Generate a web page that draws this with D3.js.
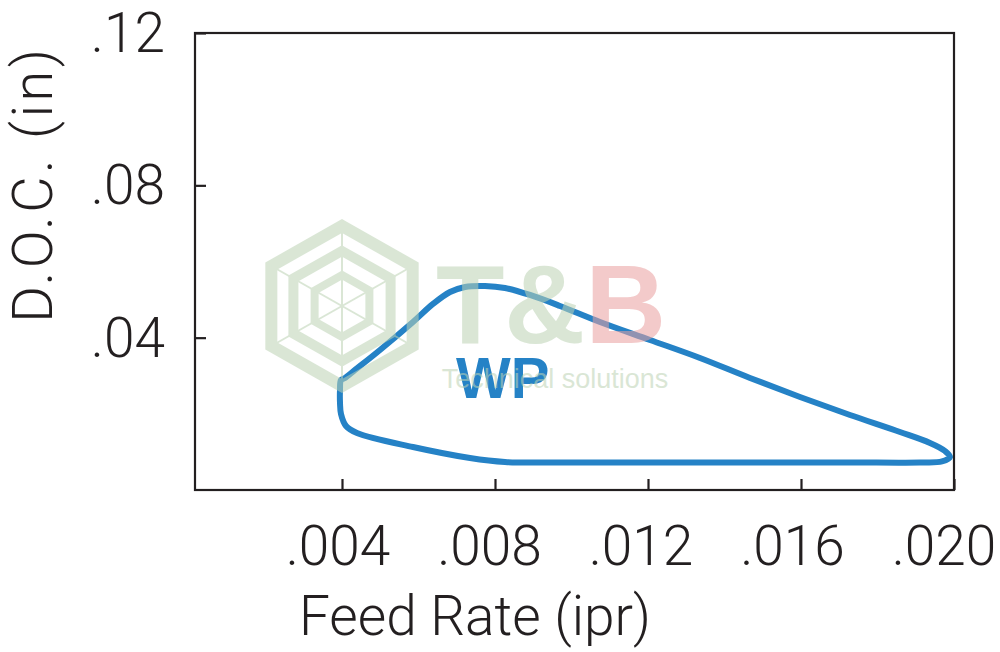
<!DOCTYPE html>
<html>
<head>
<meta charset="utf-8">
<script src="https://cdn.jsdelivr.net/npm/d3@7"></script>
<style>
  html, body { margin: 0; padding: 0; background: #ffffff; }
  svg { display: block; }
  .lbl { font-family: Roboto, "Open Sans", "Liberation Sans", sans-serif; font-weight: 300; fill: #231f20; }
</style>
</head>
<body>
<svg id="chart" width="1000" height="652"></svg>
<script>
// ---- data (Feed Rate in ipr, D.O.C. in inches) ----
const feedRate = [
  0.003974, 0.003948, 0.003948, 0.003974, 0.004105, 0.004392, 0.005856, 0.007346,
  0.008261, 0.009438, 0.012052, 0.014667, 0.017281, 0.019111, 0.019686, 0.019895,
  0.019765, 0.019373, 0.018588, 0.017281, 0.015974, 0.014667, 0.013359, 0.012052,
  0.010745, 0.009699, 0.008915, 0.008261, 0.007739, 0.007216, 0.006824, 0.006379,
  0.005856, 0.004993, 0.004340, 0.004078
];
const depthOfCut = [
  0.02889, 0.02626, 0.02285, 0.01996, 0.01681, 0.01497, 0.01129, 0.00840,
  0.00735, 0.00722, 0.00722, 0.00722, 0.00722, 0.00722, 0.00749, 0.00867,
  0.01024, 0.01234, 0.01523, 0.01970, 0.02443, 0.02942, 0.03467, 0.03940,
  0.04412, 0.04833, 0.05121, 0.05305, 0.05358, 0.05332, 0.05200, 0.04885,
  0.04412, 0.03677, 0.03152, 0.02942
];
const xTicks = [0.004, 0.008, 0.012, 0.016, 0.020];
const xTickLabels = [".004", ".008", ".012", ".016", ".020"];
const yTicks = [0.04, 0.08, 0.12];
const yTickLabels = [".04", ".08", ".12"];
const regionLabel = "WP";
const xTitle = "Feed Rate (ipr)";
const yTitle = "D.O.C. (in)";

(function () {
// ---- layout ----
const svg = d3.select("#chart");
const pl = 195, pr = 954, pt = 33, pb = 490;
const ink = "#231f20";

const x = d3.scaleLinear().domain([0.000157, 0.020]).range([pl, pr]);
const y = d3.scaleLinear().domain([0, 0.12]).range([pb, pt]);

// ---- curve ----
const pts = feedRate.map((f, i) => [f, depthOfCut[i]]);
const line = d3.line().x(d => x(d[0])).y(d => y(d[1])).curve(d3.curveCatmullRomClosed.alpha(0.5));
svg.append("path")
  .attr("d", line(pts))
  .attr("fill", "none")
  .attr("stroke", "#2582c6")
  .attr("stroke-width", 6)
  .attr("stroke-linejoin", "round");

// ---- region label ----
svg.append("text")
  .attr("x", x(0.0082)).attr("y", y(0.0242))
  .attr("text-anchor", "middle")
  .style("font-family", "'Liberation Sans', Arial, sans-serif")
  .style("font-weight", "bold")
  .style("font-size", "58px")
  .style("fill", "#2582c6")
  .text(regionLabel);

// ---- watermark ----
const wm = svg.append("g").attr("opacity", 0.55);
const hx = 342, hy = 306;
[[80, 12], [55, 10], [31, 8]].forEach(([r, w]) => {
  const hex = d3.range(6).map(k => {
    const a = -Math.PI / 2 + k * Math.PI / 3;
    return [hx + r * 1.02 * Math.cos(a), hy + r * Math.sin(a)];
  });
  wm.append("polygon").attr("points", hex.map(p => p.join(",")).join(" "))
    .attr("fill", "none").attr("stroke", "#bcd3b4").attr("stroke-width", w);
});
d3.range(6).forEach(k => {
  const a = -Math.PI / 2 + k * Math.PI / 3;
  wm.append("line").attr("x1", hx).attr("y1", hy)
    .attr("x2", hx + 80 * 1.02 * Math.cos(a)).attr("y2", hy + 80 * Math.sin(a))
    .attr("stroke", "#bcd3b4").attr("stroke-width", 2);
});
const tb = wm.append("text").attr("x", 551).attr("y", 343).attr("text-anchor", "middle")
  .style("font-family", "'Liberation Sans', Arial, sans-serif").style("font-weight", "bold")
  .style("font-size", "112px");
tb.append("tspan").attr("fill", "#bcd3b4").text("T&");
tb.append("tspan").attr("fill", "#eaa0a0").text("B");
wm.append("text").attr("x", 555).attr("y", 388).attr("text-anchor", "middle")
  .style("font-family", "'Liberation Sans', Arial, sans-serif")
  .style("font-size", "27px").attr("fill", "#bcd3b4")
  .text("Technical solutions");

// ---- frame ----
svg.append("rect")
  .attr("x", pl).attr("y", pt)
  .attr("width", pr - pl).attr("height", pb - pt)
  .attr("fill", "none").attr("stroke", ink).attr("stroke-width", 2.2);

// ---- axes (ticks inward) ----
const xAxis = d3.axisBottom(x).tickValues(xTicks).tickSize(-11).tickFormat(() => "");
const gx = svg.append("g").attr("transform", `translate(0,${pb})`).call(xAxis);
gx.select(".domain").remove();
gx.selectAll(".tick line").attr("stroke", ink).attr("stroke-width", 2.2);

const yAxis = d3.axisLeft(y).tickValues(yTicks).tickSize(-11).tickFormat(() => "");
const gy = svg.append("g").attr("transform", `translate(${pl},0)`).call(yAxis);
gy.select(".domain").remove();
gy.selectAll(".tick line").attr("stroke", ink).attr("stroke-width", 2.2);

// tick labels
svg.selectAll(".xl").data(xTicks).enter().append("text")
  .attr("class", "lbl xl")
  .attr("x", (d, i) => x(d) - 4 - i * 1.5)
  .attr("y", 565)
  .attr("text-anchor", "middle")
  .style("font-size", "55px")
  .text((d, i) => xTickLabels[i]);

svg.selectAll(".yl").data(yTicks).enter().append("text")
  .attr("class", "lbl yl")
  .attr("x", pl - 30)
  .attr("y", d => y(d) + 19)
  .attr("text-anchor", "end")
  .style("font-size", "55px")
  .text((d, i) => yTickLabels[i]);

// axis titles
svg.append("text").attr("class", "lbl")
  .attr("x", 475).attr("y", 635)
  .attr("text-anchor", "middle")
  .style("font-size", "55px")
  .text(xTitle);

svg.append("text").attr("class", "lbl")
  .attr("transform", "translate(52,184) rotate(-90)")
  .attr("text-anchor", "middle")
  .style("font-size", "56px")
  .style("letter-spacing", "3.5px")
  .text(yTitle);
})();
</script>
</body>
</html>
